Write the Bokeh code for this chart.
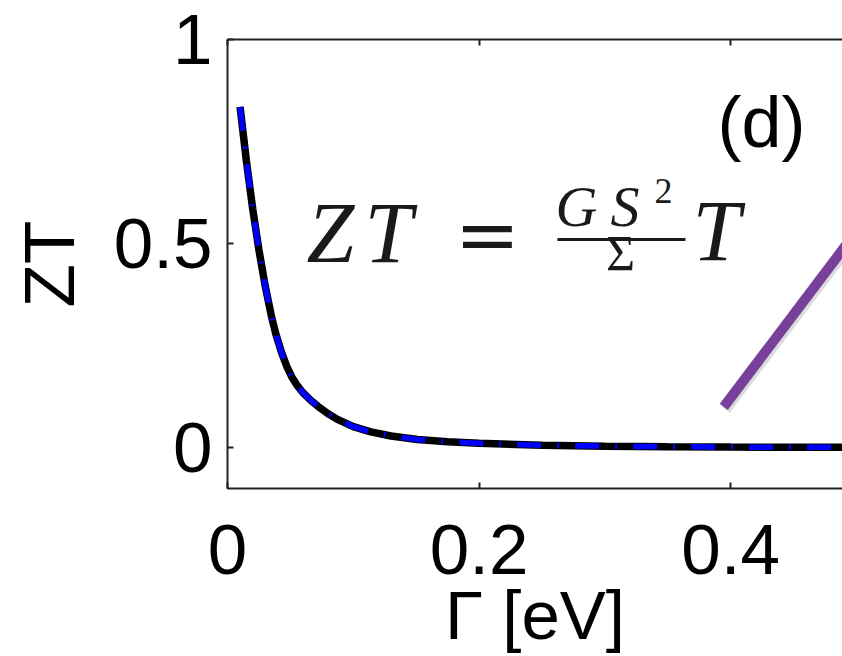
from bokeh.plotting import figure
from bokeh.models import Range1d, LinearAxis, FixedTicker, Label, BoxAnnotation
from bokeh.embed import file_html
from bokeh.resources import INLINE

# Data
gamma = [0.010, 0.015, 0.020, 0.025, 0.030, 0.035, 0.0384, 0.043, 0.047,
         0.051, 0.055, 0.060, 0.066, 0.072, 0.080, 0.0874, 0.100, 0.1139,
         0.130, 0.151, 0.175, 0.200, 0.250, 0.300, 0.350, 0.400, 0.450, 0.500]
zt = [0.835, 0.703, 0.586, 0.484, 0.396, 0.321, 0.279, 0.233, 0.200,
      0.174, 0.154, 0.1345, 0.1165, 0.101, 0.083, 0.0693, 0.0515, 0.0386,
      0.0286, 0.0202, 0.0144, 0.0107, 0.0062, 0.0038, 0.0024, 0.0015, 0.0010, 0.0007]

x_ticks = [0, 0.2, 0.4]
x_tick_labels = ["0", "0.2", "0.4"]
y_ticks = [0, 0.5, 1]
y_tick_labels = ["0", "0.5", "1"]

W, H = 842, 656

p = figure(width=W, height=H, output_backend="svg", toolbar_location=None,
           x_range=Range1d(0, 0.4889), y_range=Range1d(-0.1, 1.0))
p.min_border_left = 227
p.min_border_right = 0
p.min_border_top = 39
p.min_border_bottom = 166
p.outline_line_color = None
p.xgrid.grid_line_color = None
p.ygrid.grid_line_color = None
p.background_fill_color = "white"
p.border_fill_color = "white"

AX = "#222222"

def style_axis(ax, ticks, labels, fs="71px"):
    ax.ticker = FixedTicker(ticks=ticks)
    ax.major_label_overrides = {t: l for t, l in zip(ticks, labels)}
    ax.axis_line_color = AX
    ax.axis_line_width = 2
    ax.major_tick_line_color = AX
    ax.major_tick_line_width = 2
    ax.major_tick_in = 6
    ax.major_tick_out = 0
    ax.minor_tick_line_color = None
    ax.major_label_text_font = "Liberation Sans"
    ax.major_label_text_font_size = fs
    ax.major_label_text_color = "black"

xa = p.xaxis[0]
style_axis(xa, x_ticks, x_tick_labels)
xa.major_label_standoff = 36
xa.axis_label = "Γ [eV]"
xa.axis_label_text_font = "Liberation Sans"
xa.axis_label_text_font_size = "69px"
xa.axis_label_text_font_style = "normal"
xa.axis_label_text_color = "black"
xa.axis_label_standoff = 0

ya = p.yaxis[0]
style_axis(ya, y_ticks, y_tick_labels)
ya.major_label_standoff = 15
ya.axis_label = "ZT"
ya.axis_label_text_font = "Liberation Sans"
ya.axis_label_text_font_size = "71px"
ya.axis_label_text_font_style = "normal"
ya.axis_label_text_color = "black"
ya.axis_label_standoff = 22

top = LinearAxis()
style_axis(top, x_ticks, ["", "", ""], fs="0px")
top.major_label_standoff = 0
p.add_layout(top, "above")

# curve: black solid under blue dash-dot
p.line(gamma, zt, line_color="black", line_width=7.5)
p.line(gamma, zt, line_color="#0000ff", line_width=5.5, line_dash="24 16 2 16")

# purple pointer line (with faint shadow)
p.segment(x0=[0.3961], y0=[0.0927], x1=[0.5366], y1=[0.6659],
          line_color="#999999", line_alpha=0.35, line_width=10)
p.segment(x0=[0.3945], y0=[0.100], x1=[0.535], y1=[0.673],
          line_color="#77409b", line_width=10)

# panel label
p.add_layout(Label(x=0.3895, y=0.7988, text="(d)", text_font="Liberation Sans",
                   text_font_size="72px", text_color="black",
                   text_baseline="alphabetic"))

# formula ZT = GS^2/Sigma T
FC = "#1a1a1a"
def lab(x, y, t, fs, style="italic", align="left", font="Liberation Serif"):
    p.add_layout(Label(x=x, y=y, text=t, text_font=font, text_font_size=fs,
                       text_font_style=style, text_color=FC,
                       text_baseline="alphabetic", text_align=align))

lab(0.0628, 0.5268, "Z", "86px")
lab(0.1089, 0.5268, "T", "86px")
lab(0.2067, 0.5220, "=", "78px", style="normal", align="center", font="DejaVu Serif")
lab(0.2607, 0.5902, "G", "58px")
lab(0.3045, 0.5902, "S", "58px")
lab(0.3395, 0.6290, "2", "36px", style="normal")
lab(0.3124, 0.4780, "Σ", "50px", style="normal", align="center")
lab(0.3696, 0.5317, "T", "86px")
p.add_layout(BoxAnnotation(left=0.2623, right=0.3641, bottom=0.5061, top=0.5135,
                           fill_color=FC, fill_alpha=1, line_color=None))

open("out.html", "w").write(file_html(p, INLINE))
